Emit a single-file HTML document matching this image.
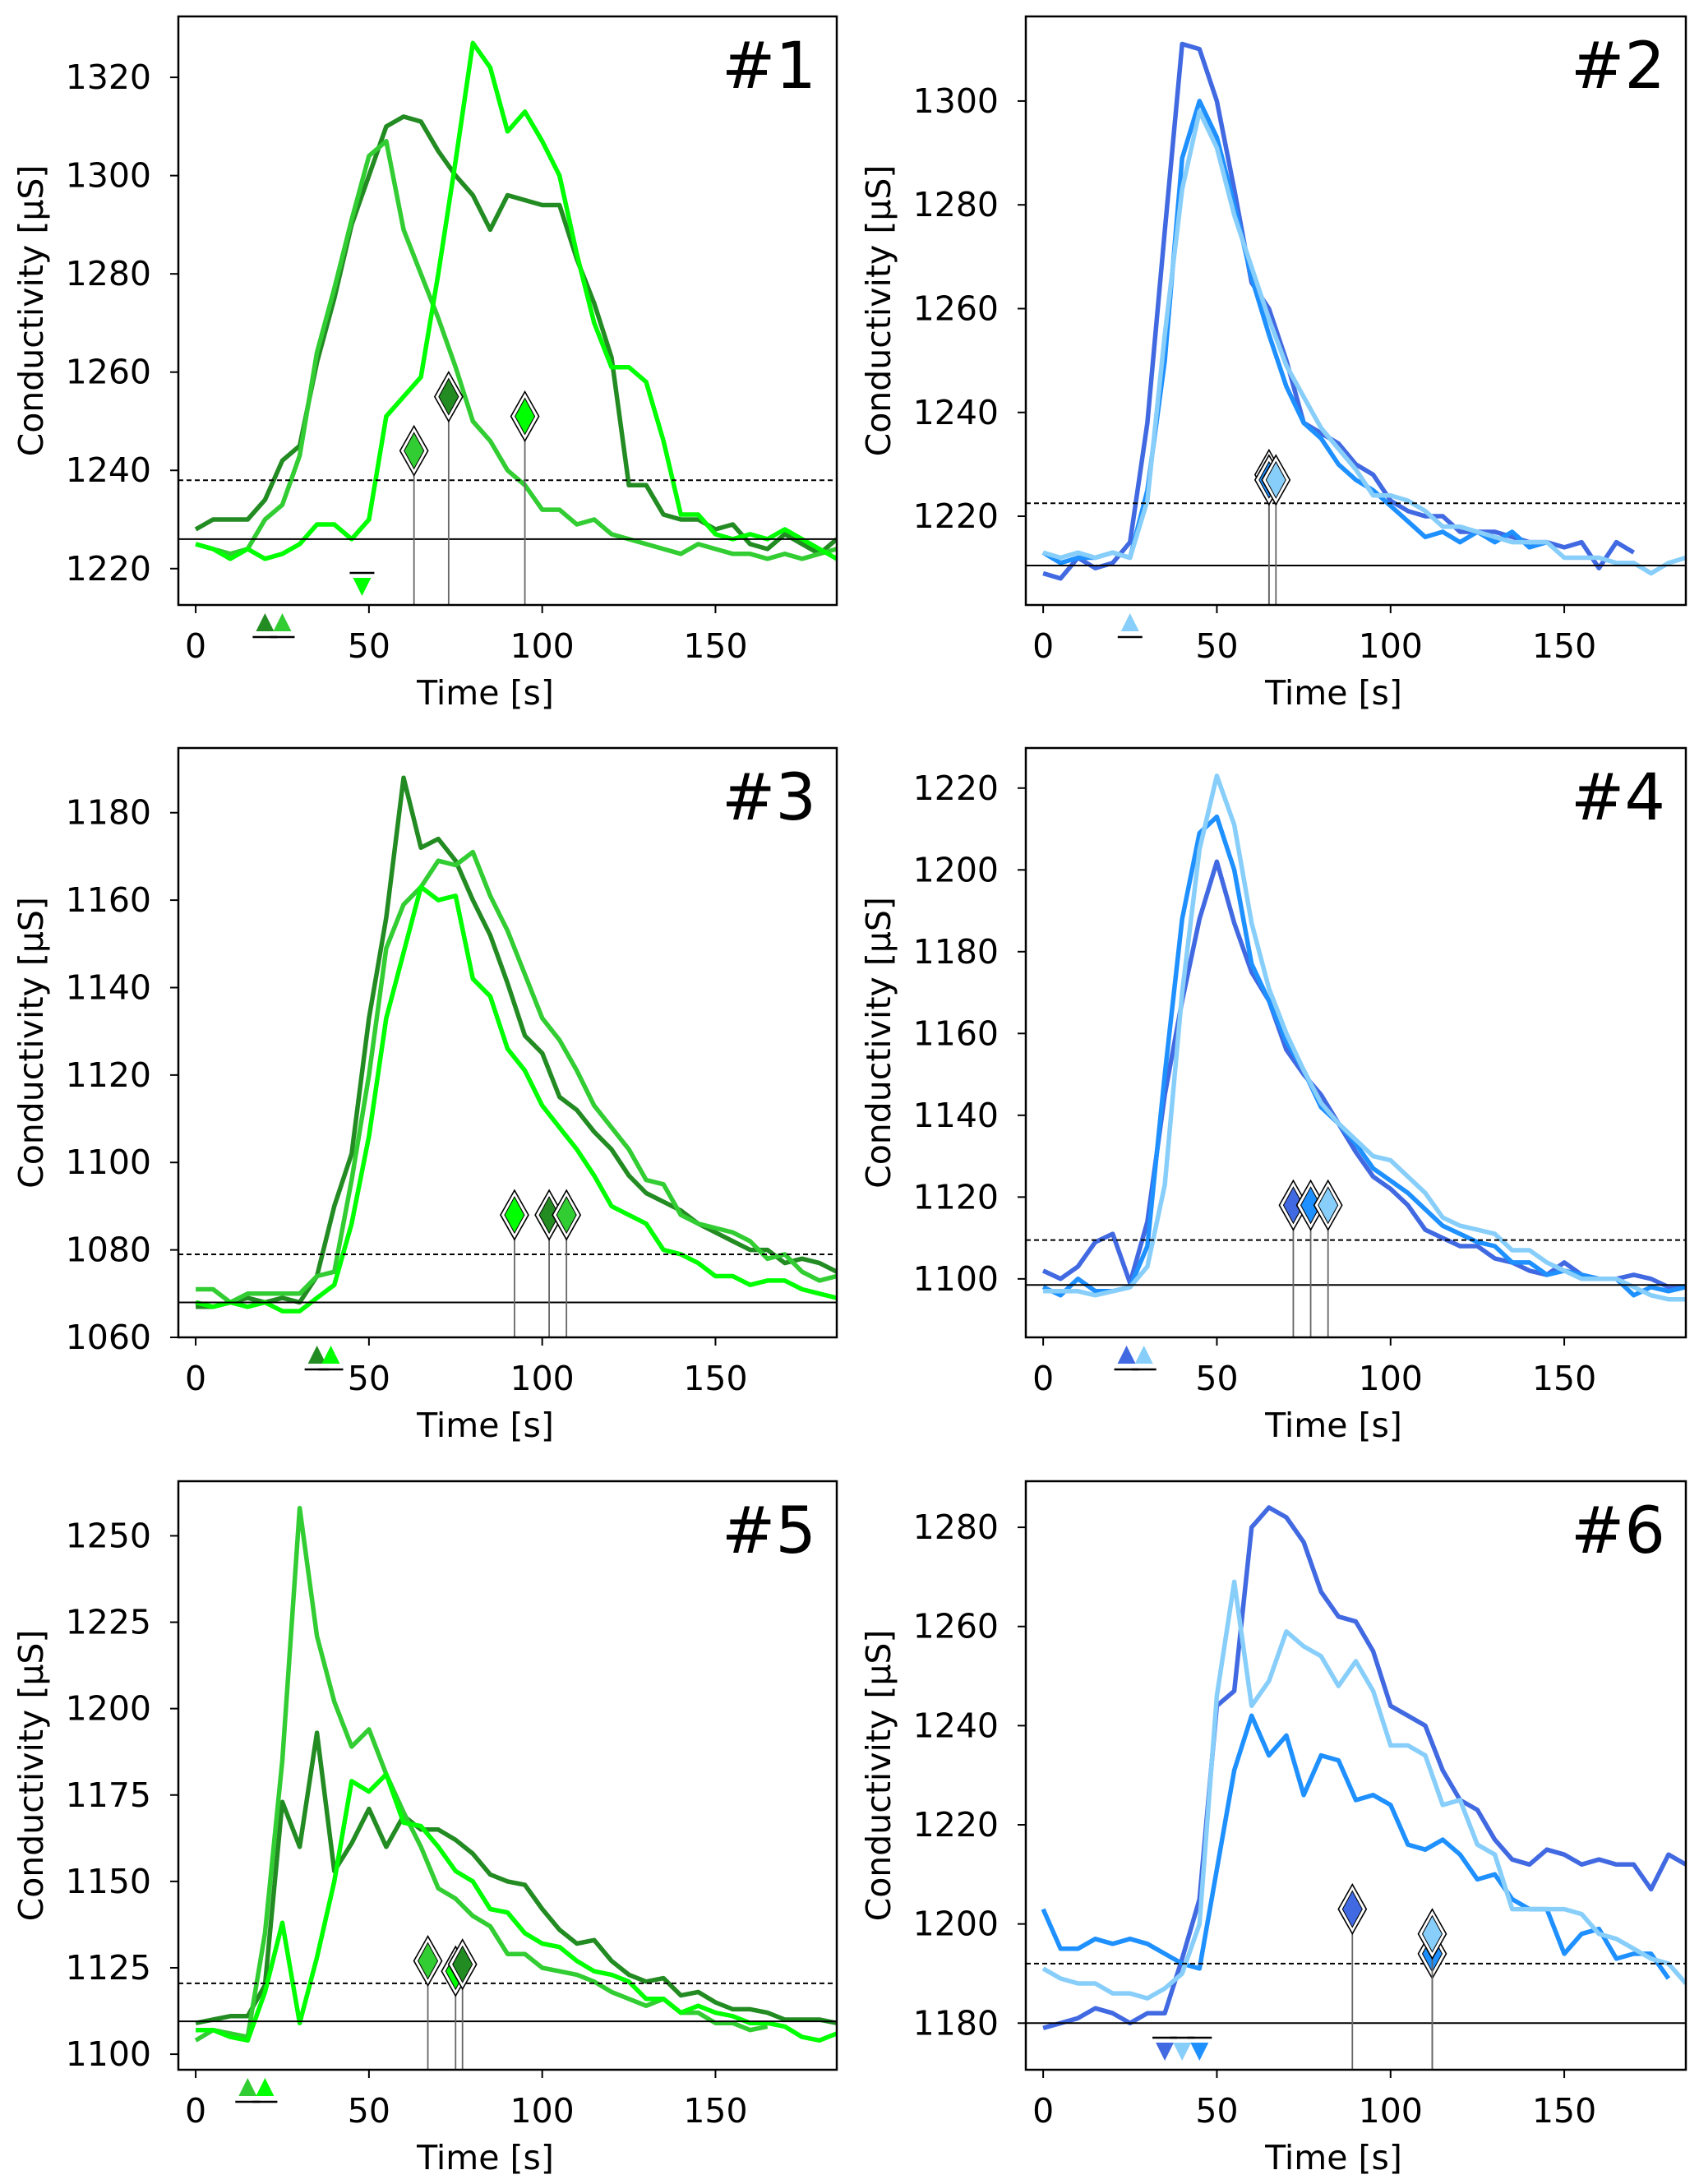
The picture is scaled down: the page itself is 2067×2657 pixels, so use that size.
<!DOCTYPE html>
<html><head><meta charset="utf-8">
<style>
html,body{margin:0;padding:0;background:#fff;}
svg{display:block;font-family:"DejaVu Sans","Liberation Sans",sans-serif;}
</style></head>
<body>
<svg id="fig" width="2067" height="2657" viewBox="0 0 2067 2657" xmlns="http://www.w3.org/2000/svg"></svg>
<script>
const times = [0,5,10,15,20,25,30,35,40,45,50,55,60,65,70,75,80,85,90,95,100,105,110,115,120,125,130,135,140,145,150,155,160,165,170,175,180,185];
const G1='#228B22', G2='#32CD32', G3='#00FF00', B1='#4169E1', B2='#1E90FF', B3='#87CEFA';

const p1_forest=[1228,1230,1230,1230,1234,1242,1245,1262,1275,1290,1300,1310,1312,1311,1305,1300,1296,1289,1296,1295,1294,1294,1283,1274,1263,1237,1237,1231,1230,1230,1228,1229,1225,1224,1227,1225,1223,1226];
const p1_limegreen=[1225,1224,1223,1224,1230,1233,1243,1264,1277,1291,1304,1307,1289,1280,1271,1261,1250,1246,1240,1237,1232,1232,1229,1230,1227,1226,1225,1224,1223,1225,1224,1223,1223,1222,1223,1222,1223,1224];
const p1_lime=[1225,1224,1222,1224,1222,1223,1225,1229,1229,1226,1230,1251,1255,1259,1280,1303,1327,1322,1309,1313,1307,1300,1284,1270,1261,1261,1258,1246,1231,1231,1227,1226,1227,1226,1228,1226,1224,1222];

const p2_royal=[1209,1208,1212,1210,1211,1215,1238,1275,1311,1310,1300,1283,1265,1260,1250,1238,1236,1234,1230,1228,1223,1221,1220,1220,1217,1217,1217,1216,1215,1215,1214,1215,1210,1215,1213];
const p2_dodger=[1213,1211,1212,1212,1213,1212,1225,1250,1289,1300,1293,1280,1266,1255,1245,1238,1235,1230,1227,1225,1222,1219,1216,1217,1215,1217,1215,1217,1214,1215];
const p2_sky=[1213,1212,1213,1212,1213,1212,1223,1255,1283,1298,1291,1278,1268,1258,1249,1243,1237,1233,1229,1224,1224,1223,1221,1218,1218,1217,1216,1215,1215,1215,1212,1212,1212,1211,1211,1209,1211,1212];

const p3_forest=[1067,1067,1068,1069,1068,1069,1068,1074,1090,1102,1133,1156,1188,1172,1174,1169,1160,1152,1141,1129,1125,1115,1112,1107,1103,1097,1093,1091,1089,1086,1084,1082,1080,1080,1077,1078,1077,1075];
const p3_limegreen=[1071,1071,1068,1070,1070,1070,1070,1074,1075,1096,1120,1149,1159,1163,1169,1168,1171,1161,1153,1143,1133,1128,1121,1113,1108,1103,1096,1095,1088,1086,1085,1084,1082,1078,1079,1075,1073,1074];
const p3_lime=[1068,1067,1068,1067,1068,1066,1066,1069,1072,1086,1106,1133,1148,1163,1160,1161,1142,1138,1126,1121,1113,1108,1103,1097,1090,1088,1086,1080,1079,1077,1074,1074,1072,1073,1073,1071,1070,1069];

const p4_royal=[1102,1100,1103,1109,1111,1099,1114,1145,1168,1188,1202,1187,1175,1168,1156,1150,1145,1138,1131,1125,1122,1118,1112,1110,1108,1108,1105,1104,1102,1101,1104,1101,1100,1100,1101,1100,1098,1098];
const p4_dodger=[1098,1096,1100,1097,1097,1098,1108,1150,1188,1209,1213,1200,1177,1168,1158,1151,1142,1138,1133,1127,1124,1121,1117,1113,1111,1109,1108,1104,1104,1101,1102,1101,1100,1100,1096,1098,1097,1098];
const p4_sky=[1097,1097,1097,1096,1097,1098,1103,1123,1170,1205,1223,1211,1187,1171,1160,1151,1143,1138,1134,1130,1129,1125,1121,1115,1113,1112,1111,1107,1107,1104,1102,1100,1100,1100,1098,1096,1095,1095];

const p5_forest=[1109,1110,1111,1111,1120,1173,1160,1193,1153,1161,1171,1160,1169,1165,1165,1162,1158,1152,1150,1149,1142,1136,1132,1133,1127,1123,1121,1122,1117,1118,1115,1113,1113,1112,1110,1110,1110,1109];
const p5_limegreen=[1104,1107,1106,1105,1135,1185,1258,1221,1202,1189,1194,1181,1170,1160,1148,1145,1140,1137,1129,1129,1125,1124,1123,1121,1118,1116,1114,1116,1112,1112,1109,1109,1107,1108];
const p5_lime=[1107,1107,1105,1104,1118,1138,1109,1128,1150,1179,1176,1181,1167,1166,1160,1153,1150,1142,1141,1135,1132,1131,1127,1124,1123,1121,1116,1116,1112,1114,1112,1111,1109,1109,1108,1105,1104,1106];

const p6_royal=[1179,1180,1181,1183,1182,1180,1182,1182,1193,1205,1244,1247,1280,1284,1282,1277,1267,1262,1261,1255,1244,1242,1240,1231,1225,1223,1217,1213,1212,1215,1214,1212,1213,1212,1212,1207,1214,1212];
const p6_dodger=[1203,1195,1195,1197,1196,1197,1196,1194,1192,1191,1211,1231,1242,1234,1238,1226,1234,1233,1225,1226,1224,1216,1215,1217,1214,1209,1210,1205,1203,1203,1194,1198,1199,1193,1194,1194,1189];
const p6_sky=[1191,1189,1188,1188,1186,1186,1185,1187,1190,1200,1246,1269,1244,1249,1259,1256,1254,1248,1253,1247,1236,1236,1234,1224,1225,1216,1214,1203,1203,1203,1203,1202,1198,1197,1195,1193,1192,1188];

const xTicks=[0,50,100,150];
const panelLabels=['#1','#2','#3','#4','#5','#6'];
const yTicks=[[1220,1240,1260,1280,1300,1320],[1220,1240,1260,1280,1300],[1060,1080,1100,1120,1140,1160,1180],[1100,1120,1140,1160,1180,1200,1220],[1100,1125,1150,1175,1200,1225,1250],[1180,1200,1220,1240,1260,1280]];
const yRanges=[[1212.6,1332.4],[1202.9,1316.3],[1060,1194.8],[1085.7,1229.8],[1095.5,1265.8],[1170.6,1289.3]];
const baselines=[1226,1210.5,1068,1098.5,1109.5,1180];
const thresholds=[1238,1222.5,1079,1109.5,1120.5,1192];
const seriesSets=[
 [[p1_forest,G1],[p1_limegreen,G2],[p1_lime,G3]],
 [[p2_royal,B1],[p2_dodger,B2],[p2_sky,B3]],
 [[p3_forest,G1],[p3_limegreen,G2],[p3_lime,G3]],
 [[p4_royal,B1],[p4_dodger,B2],[p4_sky,B3]],
 [[p5_forest,G1],[p5_limegreen,G2],[p5_lime,G3]],
 [[p6_royal,B1],[p6_dodger,B2],[p6_sky,B3]]];
const diamonds=[
 [[63,1244,G2],[73,1255,G1],[95,1251,G3]],
 [[65,1228,B1],[65,1227,B2],[67,1227,B3]],
 [[92,1088,G3],[102,1088,G1],[107,1088,G2]],
 [[72,1118,B1],[77,1118,B2],[82,1118,B3]],
 [[67,1127,G2],[75,1124,G3],[77,1126,G1]],
 [[89,1203,B1],[112,1194,B2],[112,1198,B3]]];
const triangles=[
 [[20,'up',G1],[25,'up',G2],[48,'down',G3]],
 [[25,'up',B3]],
 [[35,'up',G1],[39,'up',G3]],
 [[24,'up',B1],[29,'up',B3]],
 [[15,'up',G2],[20,'up',G3]],
 [[35,'down',B1],[40,'down',B3],[45,'down',B2]]];

const boxes=[[217,20,1018,736],[1248,20,2051,736],[217,910,1018,1627],[1248,910,2051,1627],[217,1802,1018,2518],[1248,1802,2051,2518]];
const XMIN=-5, XMAX=185;
const NS='http://www.w3.org/2000/svg';
const svg=document.getElementById('fig');
function mk(tag,attrs,parent){const e=document.createElementNS(NS,tag);for(const k in attrs)e.setAttribute(k,attrs[k]);(parent||svg).appendChild(e);return e;}

boxes.forEach((b,i)=>{
  const [L,T,R,B]=b;
  const g=mk('g',{});
  
  
  const xs=t=>L+(t-XMIN)/(XMAX-XMIN)*(R-L);
  const ys=v=>B-(v-yRanges[i][0])/(yRanges[i][1]-yRanges[i][0])*(B-T);
  const cid='clip'+i;
  const cp=mk('clipPath',{id:cid},g); mk('rect',{x:L,y:T,width:R-L,height:B-T},cp);
  seriesSets[i].forEach((s,k)=>{
    const pts=s[0].map((v,j)=>xs(times[j]).toFixed(1)+','+ys(v).toFixed(1)).join(' ');
    const pl=mk('polyline',{points:pts,fill:'none',stroke:s[1],'stroke-width':5.5,'stroke-linejoin':'round','clip-path':'url(#'+cid+')'},g);
    
    
  });
  const bl=mk('line',{x1:L,x2:R,y1:ys(baselines[i]),y2:ys(baselines[i]),stroke:'#000','stroke-width':2},g);
  
  
  const th=mk('line',{x1:L,x2:R,y1:ys(thresholds[i]),y2:ys(thresholds[i]),stroke:'#000','stroke-width':2,'stroke-dasharray':'6,4'},g);
  
  
  diamonds[i].forEach(d=>{
    const cx=xs(d[0]), cy=ys(d[1]);
    mk('line',{x1:cx,x2:cx,y1:cy+26,y2:B,stroke:'#666','stroke-width':1.8},g);
    const dg=mk('g',{},g);
    
    
    mk('polygon',{points:`${cx},${cy-30} ${cx+17},${cy} ${cx},${cy+30} ${cx-17},${cy}`,fill:'#fff',stroke:'#000','stroke-width':1.6},dg);
    mk('polygon',{points:`${cx},${cy-22} ${cx+12},${cy} ${cx},${cy+22} ${cx-12},${cy}`,fill:d[2],stroke:'#000','stroke-width':1},dg);
  });
  triangles[i].forEach(t=>{
    const cx=xs(t[0]);
    const tg=mk('g',{},g);
    
    
    if(t[1]==='up'){
      const cy=B+22;
      mk('polygon',{points:`${cx},${cy-12} ${cx+11},${cy+10} ${cx-11},${cy+10}`,fill:t[2]},tg);
      mk('line',{x1:cx-15,x2:cx+15,y1:B+39,y2:B+39,stroke:'#000','stroke-width':2.5},tg);
    } else {
      const cy=B-23;
      mk('polygon',{points:`${cx-11},${cy-10} ${cx+11},${cy-10} ${cx},${cy+12}`,fill:t[2]},tg);
      mk('line',{x1:cx-15,x2:cx+15,y1:B-39,y2:B-39,stroke:'#000','stroke-width':2.5},tg);
    }
  });
  const fr=mk('rect',{x:L,y:T,width:R-L,height:B-T,fill:'none',stroke:'#000','stroke-width':2.5},g);
  
  
  xTicks.forEach(t=>{
    const x=xs(t);
    mk('line',{x1:x,x2:x,y1:B,y2:B+10,stroke:'#000','stroke-width':2},g);
    const tx=mk('text',{x:x,y:B+64,'font-size':41,'text-anchor':'middle',fill:'#000'},g);
    tx.textContent=t;
    
    
  });
  yTicks[i].forEach(v=>{
    const y=ys(v);
    mk('line',{x1:L-10,x2:L,y1:y,y2:y,stroke:'#000','stroke-width':2},g);
    const tx=mk('text',{x:L-33,y:y+14,'font-size':41,'text-anchor':'end',fill:'#000'},g);
    tx.textContent=v;
    
    
  });
  const xl=mk('text',{x:(L+R)/2-27,y:B+121,'font-size':41,'text-anchor':'middle',fill:'#000'},g);
  xl.textContent='Time [s]';
  
  
  const yl=mk('text',{x:0,y:0,'font-size':41,'text-anchor':'middle',fill:'#000',transform:`translate(${L-165},${(T+B)/2}) rotate(-90)`},g);
  yl.textContent='Conductivity [µS]';
  
  
  const pl=mk('text',{x:R-25,y:T+87,'font-size':78,'text-anchor':'end',fill:'#000'},g);
  pl.textContent=panelLabels[i];
  
  
});
</script>
</body></html>
